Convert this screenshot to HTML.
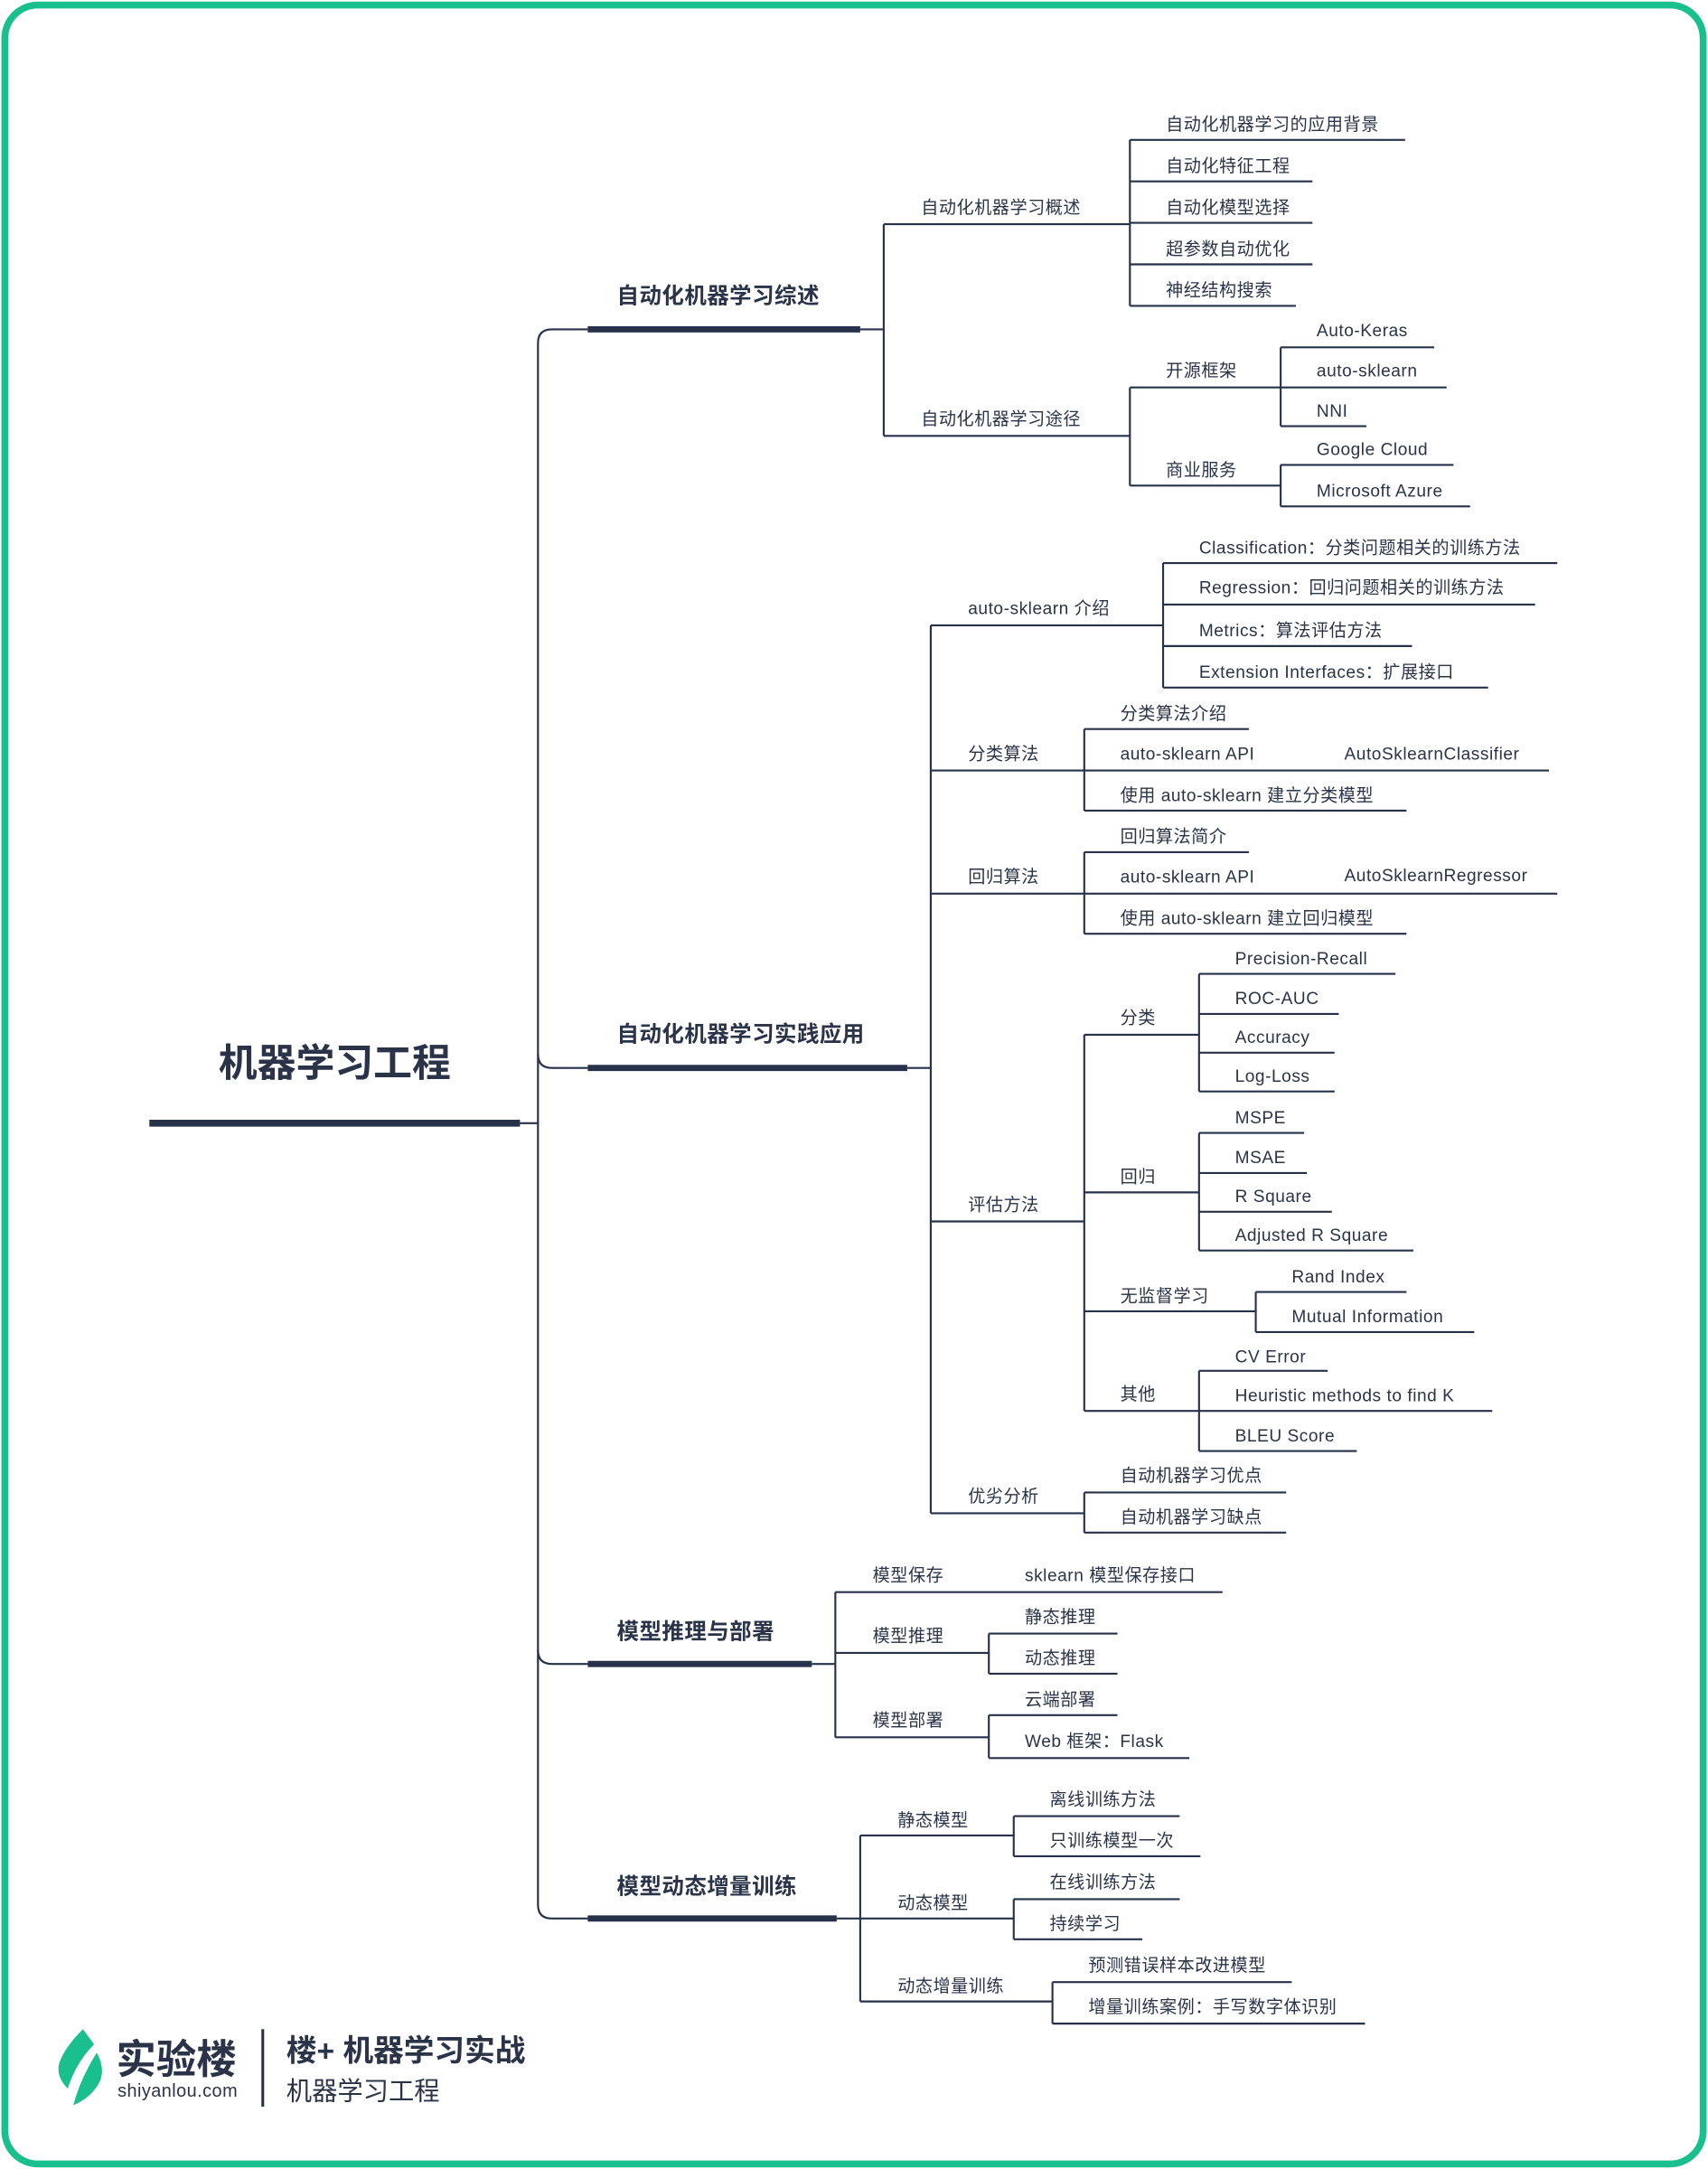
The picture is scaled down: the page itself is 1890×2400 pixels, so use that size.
<!DOCTYPE html>
<html><head><meta charset="utf-8"><style>
html,body{margin:0;padding:0;background:#fff}
svg{display:block}
text{font-family:"Liberation Sans","Noto Sans CJK SC",sans-serif;fill:#2a3348}
.l{font-size:12.5px;letter-spacing:0.35px}
.m{font-size:16px;font-weight:bold;letter-spacing:0.3px}
path,line{stroke:#27324a;fill:none}
.t{stroke-width:1.4}
</style></head><body>
<svg width="1890" height="2400" viewBox="0 0 1235 1568" xmlns="http://www.w3.org/2000/svg">
<rect x="3.5" y="3.5" width="1228" height="1561" rx="24" fill="#fff" stroke="#19c08d" stroke-width="5"/>

<text x="158" y="778" style="font-size:28px;font-weight:bold">机器学习工程</text>
<line x1="108" y1="812" x2="376" y2="812" stroke-width="5"/>
<path class="t" d="M376 812 H389"/>
<path class="t" d="M425 238 H399 Q389 238 389 248 V1377 Q389 1387 399 1387 H425"/>
<path class="t" d="M389 762 Q389 772 399 772 H425"/>
<path class="t" d="M389 1193 Q389 1203 399 1203 H425"/>

<text class="m" x="446" y="219">自动化机器学习综述</text>
<line x1="425" y1="238" x2="622" y2="238" stroke-width="4.5"/>
<text class="m" x="446" y="753">自动化机器学习实践应用</text>
<line x1="425" y1="772" x2="656" y2="772" stroke-width="4.5"/>
<text class="m" x="446" y="1185">模型推理与部署</text>
<line x1="425" y1="1203" x2="587" y2="1203" stroke-width="4.5"/>
<text class="m" x="446" y="1369">模型动态增量训练</text>
<line x1="425" y1="1387" x2="605" y2="1387" stroke-width="4.5"/>

<g class="t">
<path d="M622 238 H639 M639 162 V315 M639 162 H817 M639 315 H817"/>
<path d="M817 101 V221 M817 101 H1016 M817 131 H949 M817 161 H949 M817 191 H949 M817 221 H937"/>
<path d="M817 280 V351 M817 280 H926 M817 351 H926"/>
<path d="M926 251 V308 M926 251 H1037 M926 280 H1046 M926 308 H988"/>
<path d="M926 336 V366 M926 336 H1051 M926 366 H1063"/>
</g>
<g class="l">
<text x="666" y="154">自动化机器学习概述</text>
<text x="666" y="307">自动化机器学习途径</text>
<text x="843" y="94">自动化机器学习的应用背景</text>
<text x="843" y="124">自动化特征工程</text>
<text x="843" y="154">自动化模型选择</text>
<text x="843" y="184">超参数自动优化</text>
<text x="843" y="214">神经结构搜索</text>
<text x="843" y="272">开源框架</text>
<text x="843" y="344">商业服务</text>
<text x="952" y="243">Auto-Keras</text>
<text x="952" y="272">auto-sklearn</text>
<text x="952" y="301">NNI</text>
<text x="952" y="329">Google Cloud</text>
<text x="952" y="359">Microsoft Azure</text>
</g>

<g class="t">
<path d="M656 772 H673 M673 452 V1094"/>
<path d="M673 452 H841 M673 557 H784 M673 646 H784 M673 883 H784 M673 1094 H784"/>
<path d="M841 407 V497 M841 407 H1126 M841 437 H1110 M841 467 H1021 M841 497 H1076"/>
<path d="M784 527 V586 M784 527 H903 M784 557 H1120 M784 586 H1017"/>
<path d="M784 616 V675 M784 616 H903 M784 646 H1126 M784 675 H1017"/>
<path d="M784 748 V1020 M784 748 H867 M784 862 H867 M784 948 H908 M784 1020 H867"/>
<path d="M867 704 V789 M867 704 H1009 M867 733 H968 M867 761 H965 M867 789 H965"/>
<path d="M867 819 V904 M867 819 H943 M867 848 H945 M867 876 H963 M867 904 H1022"/>
<path d="M908 934 V963 M908 934 H1017 M908 963 H1066"/>
<path d="M867 991 V1049 M867 991 H960 M867 1020 H1079 M867 1049 H981"/>
<path d="M784 1079 V1108 M784 1079 H930 M784 1108 H930"/>
</g>
<g class="l">
<text x="700" y="444">auto-sklearn 介绍</text>
<text x="867" y="400">Classification：分类问题相关的训练方法</text>
<text x="867" y="429">Regression：回归问题相关的训练方法</text>
<text x="867" y="460">Metrics：算法评估方法</text>
<text x="867" y="490">Extension Interfaces：扩展接口</text>
<text x="700" y="549">分类算法</text>
<text x="810" y="520">分类算法介绍</text>
<text x="810" y="549">auto-sklearn API</text>
<text x="972" y="549">AutoSklearnClassifier</text>
<text x="810" y="579">使用 auto-sklearn 建立分类模型</text>
<text x="700" y="638">回归算法</text>
<text x="810" y="609">回归算法简介</text>
<text x="810" y="638">auto-sklearn API</text>
<text x="972" y="637">AutoSklearnRegressor</text>
<text x="810" y="668">使用 auto-sklearn 建立回归模型</text>
<text x="700" y="875">评估方法</text>
<text x="810" y="740">分类</text>
<text x="893" y="697">Precision-Recall</text>
<text x="893" y="726">ROC-AUC</text>
<text x="893" y="754">Accuracy</text>
<text x="893" y="782">Log-Loss</text>
<text x="810" y="855">回归</text>
<text x="893" y="812">MSPE</text>
<text x="893" y="841">MSAE</text>
<text x="893" y="869">R Square</text>
<text x="893" y="897">Adjusted R Square</text>
<text x="810" y="941">无监督学习</text>
<text x="934" y="927">Rand Index</text>
<text x="934" y="956">Mutual Information</text>
<text x="810" y="1012">其他</text>
<text x="893" y="985">CV Error</text>
<text x="893" y="1013">Heuristic methods to find K</text>
<text x="893" y="1042">BLEU Score</text>
<text x="700" y="1086">优劣分析</text>
<text x="810" y="1071">自动机器学习优点</text>
<text x="810" y="1101">自动机器学习缺点</text>
</g>

<g class="t">
<path d="M587 1203 H604 M604 1151 V1256 M604 1151 H884 M604 1195 H715 M604 1256 H715"/>
<path d="M715 1181 V1210 M715 1181 H808 M715 1210 H808"/>
<path d="M715 1240 V1271 M715 1240 H808 M715 1271 H860"/>
</g>
<g class="l">
<text x="631" y="1143">模型保存</text>
<text x="741" y="1143">sklearn 模型保存接口</text>
<text x="631" y="1187">模型推理</text>
<text x="741" y="1173">静态推理</text>
<text x="741" y="1203">动态推理</text>
<text x="631" y="1248">模型部署</text>
<text x="741" y="1233">云端部署</text>
<text x="741" y="1263">Web 框架：Flask</text>
</g>

<g class="t">
<path d="M605 1387 H622 M622 1327 V1447 M622 1327 H733 M622 1387 H733 M622 1447 H761"/>
<path d="M733 1313 V1342 M733 1313 H853 M733 1342 H868"/>
<path d="M733 1373 V1402 M733 1373 H853 M733 1402 H826"/>
<path d="M761 1433 V1463 M761 1433 H934 M761 1463 H987"/>
</g>
<g class="l">
<text x="649" y="1320">静态模型</text>
<text x="759" y="1305">离线训练方法</text>
<text x="759" y="1335">只训练模型一次</text>
<text x="649" y="1380">动态模型</text>
<text x="759" y="1365">在线训练方法</text>
<text x="759" y="1395">持续学习</text>
<text x="649" y="1440">动态增量训练</text>
<text x="787" y="1425">预测错误样本改进模型</text>
<text x="787" y="1455">增量训练案例：手写数字体识别</text>
</g>

<path d="M60 1467 Q47 1480 43 1491 Q40 1501 49 1510 Q55 1491 68 1478 Z" style="fill:#19c08d;stroke:none"/>
<path d="M70 1484 Q77 1497 71 1507 Q65 1517 53 1522 Q58 1503 70 1484 Z" style="fill:#19c08d;stroke:none"/>
<text x="84" y="1499" style="font-size:29px;font-weight:bold">实验楼</text>
<text x="85" y="1516" style="font-size:13px;letter-spacing:0.3px">shiyanlou.com</text>
<line x1="190" y1="1467" x2="190" y2="1523" stroke="#999" stroke-width="2"/>
<text x="207" y="1490" style="font-size:22px;font-weight:bold">楼+ 机器学习实战</text>
<text x="207" y="1518" style="font-size:18.5px">机器学习工程</text>
</svg>
</body></html>
